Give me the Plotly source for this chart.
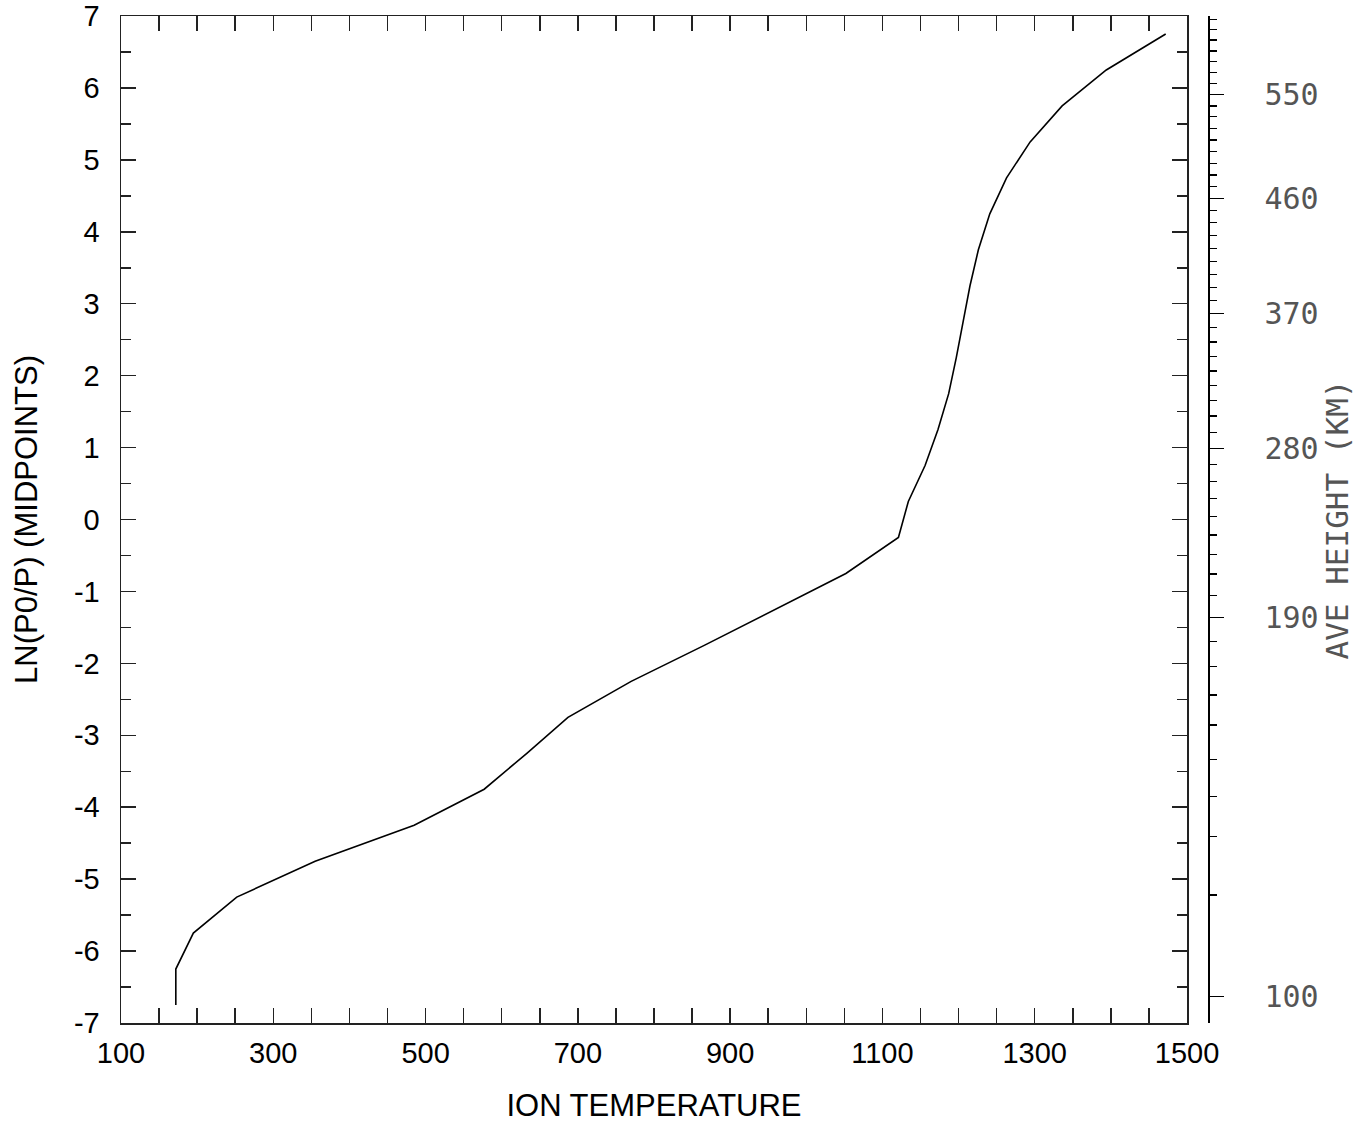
import plotly.graph_objects as go

# ---- data ----
ln_p0_p = [-6.75, -6.25, -5.75, -5.25, -4.75, -4.25, -3.75, -3.25, -2.75, -2.25,
           -1.75, -1.25, -0.75, -0.25, 0.25, 0.75, 1.25, 1.75, 2.25, 2.75,
           3.25, 3.75, 4.25, 4.75, 5.25, 5.75, 6.25, 6.75]
ion_temp = [172, 172, 195, 252, 355, 485, 577, 633, 687, 770,
            866, 960, 1052, 1121, 1134, 1156, 1173, 1187, 1197, 1206,
            1215, 1226, 1241, 1263, 1294, 1336, 1394, 1472]

x_tick_vals = [100, 200, 300, 400, 500, 600, 700, 800, 900, 1000, 1100, 1200, 1300, 1400, 1500]
x_tick_text = ["100", "", "300", "", "500", "", "700", "", "900", "", "1100", "", "1300", "", "1500"]
y_tick_vals = [-7, -6, -5, -4, -3, -2, -1, 0, 1, 2, 3, 4, 5, 6, 7]
y_tick_text = ["-7", "-6", "-5", "-4", "-3", "-2", "-1", "0", "1", "2", "3", "4", "5", "6", "7"]

# right (height) axis: labelled heights and their ln(P0/P) positions
height_labels = ["100", "190", "280", "370", "460", "550"]
height_major_pos = [-6.634, -1.365, 0.990, 2.867, 4.466, 5.911]
# every 10 km tick (minor), positions on ln(P0/P) scale
height_minor_km = [110, 120, 130, 140, 150, 160, 170, 180, 200, 210, 220, 230, 240, 250,
                   260, 270, 290, 300, 310, 320, 330, 340, 350, 360, 380, 390, 400,
                   410, 420, 430, 440, 450, 470, 480, 490, 500, 510, 520, 530, 540,
                   560, 570, 580, 590, 600, 610, 620]
height_minor_pos = [-5.220, -4.410, -3.854, -3.334, -2.857, -2.440, -2.046, -1.699,
                    -1.059, -0.758, -0.484, -0.215, 0.039, 0.289, 0.526, 0.768,
                    1.212, 1.439, 1.654, 1.863, 2.065, 2.266, 2.468, 2.669,
                    3.042, 3.228, 3.409, 3.590, 3.770, 3.951, 4.126, 4.293,
                    4.627, 4.789, 4.952, 5.113, 5.276, 5.439, 5.600, 5.749,
                    6.064, 6.212, 6.365, 6.513, 6.666, 6.815, 6.954]

W, H = 1365, 1123
L, T = 121, 16
frame_right = 1187
axis2_x = 1208
frame_bottom = 1023
R = W - axis2_x
B = H - frame_bottom
plot_w = W - L - R
frame_w = frame_right - L

fig = go.Figure()
fig.add_trace(go.Scatter(x=ion_temp, y=ln_p0_p, mode="lines",
                         line=dict(color="black", width=1.6),
                         showlegend=False, hoverinfo="skip"))
# invisible trace to activate the right axis
fig.add_trace(go.Scatter(x=[ion_temp[0]], y=[ln_p0_p[0]], yaxis="y2", mode="markers",
                         marker=dict(opacity=0), showlegend=False, hoverinfo="skip"))

tick_font = dict(family="Liberation Sans, Arial, sans-serif", size=29, color="black")
title_font = dict(family="Liberation Sans, Arial, sans-serif", size=31, color="black")
mono_font = dict(family="DejaVu Sans Mono, monospace", size=30, color="#555555")

fig.update_layout(
    width=W, height=H,
    margin=dict(l=L, r=R, t=T, b=B, autoexpand=False),
    paper_bgcolor="white", plot_bgcolor="white",
    xaxis=dict(
        domain=[0, frame_w / plot_w],
        range=[100, 1500], automargin=False,
        tickmode="array", tickvals=x_tick_vals, ticktext=x_tick_text,
        ticks="inside", ticklen=15, tickwidth=1.5, tickcolor="#222",
        minor=dict(dtick=50, tick0=100, ticks="inside", ticklen=10, tickwidth=1.5, tickcolor="#222"),
        showline=True, linecolor="#222", linewidth=1.5, mirror="allticks",
        showgrid=False, zeroline=False,
        tickfont=tick_font, ticklabelstandoff=4, ticklabeloverflow="allow",
        title=dict(text="ION TEMPERATURE", font=title_font, standoff=27),
    ),
    yaxis=dict(
        range=[-7, 7], automargin=False,
        tickmode="array", tickvals=y_tick_vals, ticktext=y_tick_text,
        ticks="inside", ticklen=15, tickwidth=1.5, tickcolor="#222",
        minor=dict(dtick=0.5, tick0=0, ticks="inside", ticklen=10, tickwidth=1.5, tickcolor="#222"),
        showline=True, linecolor="#222", linewidth=1.5, mirror="allticks",
        showgrid=False, zeroline=False,
        tickfont=tick_font, ticklabelstandoff=14, ticklabeloverflow="allow",
        title=dict(text="LN(P0/P) (MIDPOINTS)", font=title_font, standoff=27),
    ),
    yaxis2=dict(
        overlaying="y", anchor="free", position=1.0, side="right",
        range=[-7, 7], automargin=False,
        tickmode="array", tickvals=height_major_pos, ticktext=height_labels,
        ticks="outside", ticklen=14, tickwidth=1.5, tickcolor="black",
        minor=dict(tickmode="array", tickvals=height_minor_pos, ticks="outside",
                   ticklen=7, tickwidth=1.5, tickcolor="black"),
        showline=True, linecolor="black", linewidth=1.5,
        showgrid=False, zeroline=False,
        tickfont=mono_font, ticklabelstandoff=35, ticklabeloverflow="allow",
        title=dict(text="AVE HEIGHT (KM)", font=dict(family="DejaVu Sans Mono, monospace",
                                                     size=31, color="#555555"), standoff=8),
    ),
)

# remove the default page margin so the figure fills the window exactly
fig.write_html("out.html",
               config={"displayModeBar": False, "staticPlot": True},
               post_script="document.body.style.margin='0';document.body.style.overflow='hidden';")
